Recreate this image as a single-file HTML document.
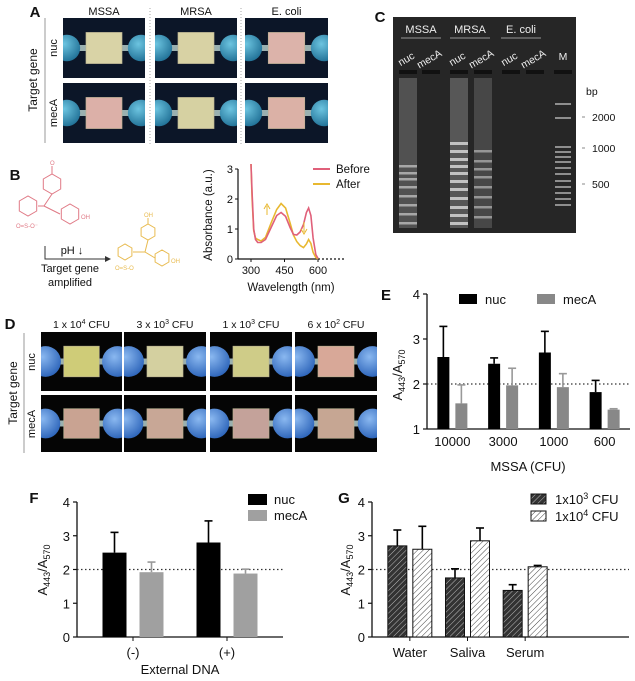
<!DOCTYPE html>
<html><head><meta charset="utf-8"><style>
body{margin:0;background:#fff;}
svg{display:block;font-family:"Liberation Sans",Arial,sans-serif;}
</style></head><body>
<svg id="fig" width="635" height="681" viewBox="0 0 635 681" xmlns="http://www.w3.org/2000/svg">
<defs id="defs">
<pattern id="hatchDark" patternUnits="userSpaceOnUse" width="4" height="4" patternTransform="rotate(45)"><rect width="4" height="4" fill="#333"/><line x1="0" y1="0" x2="0" y2="4" stroke="#bbb" stroke-width="1"/></pattern>
<pattern id="hatchLight" patternUnits="userSpaceOnUse" width="4" height="4" patternTransform="rotate(45)"><rect width="4" height="4" fill="#fff"/><line x1="0" y1="0" x2="0" y2="4" stroke="#444" stroke-width="1"/></pattern>
<radialGradient id="blueBall" cx="0.4" cy="0.35" r="0.7"><stop offset="0" stop-color="#6cc4e0"/><stop offset="1" stop-color="#1f6f95"/></radialGradient>
<radialGradient id="blueBall2" cx="0.4" cy="0.35" r="0.7"><stop offset="0" stop-color="#8ab8f0"/><stop offset="1" stop-color="#2a62b8"/></radialGradient>
</defs>
<g id="panelA"></g>
<g id="panelB"></g>
<g id="panelC"></g>
<g id="panelD"></g>
<g id="panelE"></g>
<g id="panelF"></g>
<g id="panelG"></g>
</svg>
<script>
// ---------- data ----------
const eCategories = ["10000","3000","1000","600"];
const eNuc = [2.6, 2.45, 2.7, 1.82];
const eNucErr = [0.68, 0.13, 0.47, 0.26];
const eMecA = [1.57, 1.97, 1.93, 1.43];
const eMecAErr = [0.41, 0.38, 0.30, 0.02];
const eTicks = [1, 2, 3, 4];

const fCategories = ["(-)", "(+)"];
const fNuc = [2.5, 2.8];
const fNucErr = [0.6, 0.64];
const fMecA = [1.92, 1.88];
const fMecAErr = [0.3, 0.13];
const fTicks = [0, 1, 2, 3, 4];

const gCategories = ["Water", "Saliva", "Serum"];
const g1e3 = [2.7, 1.75, 1.38];
const g1e3Err = [0.47, 0.27, 0.17];
const g1e4 = [2.6, 2.85, 2.08];
const g1e4Err = [0.68, 0.38, 0.04];
const gTicks = [0, 1, 2, 3, 4];

const bWave = [300, 305, 312, 320, 330, 345, 365, 390, 415, 435, 455, 475, 490, 505, 520, 535, 548, 558, 568, 578, 590, 600];
const bBefore = [3.2, 2.2, 1.0, 0.65, 0.55, 0.55, 0.65, 1.05, 1.45, 1.55, 1.42, 1.05, 0.82, 0.8, 0.9, 1.15, 1.55, 1.7, 1.45, 0.7, 0.15, 0.02];
const bAfter = [3.2, 2.0, 0.95, 0.7, 0.65, 0.6, 0.72, 1.2, 1.65, 1.85, 1.7, 1.2, 0.8, 0.58, 0.45, 0.38, 0.5, 0.65, 0.52, 0.22, 0.05, 0.0];
const bTicksX = [300, 450, 600];
const bTicksY = [0, 1, 2, 3];

const NS = "http://www.w3.org/2000/svg";
function mk(tag, attrs, parent, txt){
  const e = document.createElementNS(NS, tag);
  for (const k in attrs) e.setAttribute(k, attrs[k]);
  if (txt !== undefined) e.textContent = txt;
  parent.appendChild(e); return e;
}
function txt(parent, x, y, s, size, opts){
  opts = opts || {};
  const t = mk("text", {x:x, y:y, "font-size":size, fill:opts.fill||"#111", "text-anchor":opts.anchor||"middle"}, parent, s);
  if (opts.bold) t.setAttribute("font-weight","bold");
  if (opts.rot) t.setAttribute("transform","rotate(-90 "+x+" "+y+")");
  return t;
}
const defs = document.getElementById("defs");
let clipN = 0;

// ---------- Panel A ----------
const A = document.getElementById("panelA");
let t = txt(A, 35, 17, "A", 15, {bold:true});


const aCols = [[63,145,"MSSA"],[155,237,"MRSA"],[245,328,"E. coli"]];
const aRows = [[18,78],[83,143]];
const aColors = [["#d9d3a6","#d8d2a4","#dcb3aa"],["#dcb0a8","#d6d1a2","#dbb1a6"]];
function cartridge(parent, x0, x1, y0, y1, color, bg, ball, rf){
  const id = "clip"+(clipN++);
  const cp = mk("clipPath",{id:id},defs);
  mk("rect",{x:x0,y:y0,width:x1-x0,height:y1-y0},cp);
  const g = mk("g",{"clip-path":"url(#"+id+")"},parent);
  mk("rect",{x:x0,y:y0,width:x1-x0,height:y1-y0,fill:bg},g);
  const cy=(y0+y1)/2, w=x1-x0, h=y1-y0;
  const r=h*rf;
  mk("rect",{x:x0,y:cy-3,width:w,height:6,fill:"#9ab0b0"},g);
  mk("circle",{cx:x0+r*0.3,cy:cy,r:r,fill:"url(#"+ball+")"},g);
  mk("circle",{cx:x1-r*0.3,cy:cy,r:r,fill:"url(#"+ball+")"},g);
  mk("rect",{x:x0+w*0.28,y:y0+h*0.24,width:w*0.44,height:h*0.52,fill:color,stroke:"#b8b090","stroke-width":0.6},g);
}
aCols.forEach((c,ci)=>{
  const h = txt(A,(c[0]+c[1])/2,15,c[2],11);
  
  
  aRows.forEach((r,ri)=>{
    const g = mk("g",{},A);
    
    
    cartridge(g,c[0],c[1],r[0],r[1],aColors[ri][ci],"#0c1628","blueBall",0.22);
  });
});
mk("line",{x1:150,y1:8,x2:150,y2:146,stroke:"#aaa","stroke-dasharray":"1,2"},A);
mk("line",{x1:241,y1:8,x2:241,y2:146,stroke:"#aaa","stroke-dasharray":"1,2"},A);
mk("line",{x1:45,y1:18,x2:45,y2:143,stroke:"#999"},A);
t = txt(A,37,80,"Target gene",12,{rot:true});  
txt(A,57,48,"nuc",11,{rot:true});
txt(A,57,113,"mecA",11,{rot:true});

// ---------- Panel C gel ----------
const C = document.getElementById("panelC");
t = txt(C,380,22,"C",15,{bold:true});  
const gel = mk("rect",{x:393,y:17,width:183,height:216,fill:"#262626"},C);
 
[["MSSA",421],["MRSA",470],["E. coli",521]].forEach(l=>{
  txt(C,l[1],33,l[0],11,{fill:"#eee"});
  mk("line",{x1:l[1]-20,y1:38,x2:l[1]+20,y2:38,stroke:"#bbb","stroke-width":0.8},C);
});
const lanes=[408,431,459,483,511,535];
lanes.forEach((x,i)=>{
  mk("text",{x:x,y:62,"font-size":10.5,fill:"#eee","text-anchor":"middle",transform:"rotate(-30 "+x+" 62)"},C,i%2?"mecA":"nuc");
  mk("rect",{x:x-9,y:70,width:18,height:4,fill:"#111"},C);
});
txt(C,563,60,"M",10.5,{fill:"#eee"});
mk("rect",{x:554,y:70,width:18,height:4,fill:"#111"},C);
[[408,0.45],[459,0.5],[483,0.35]].forEach(s=>{
  mk("rect",{x:s[0]-9,y:78,width:18,height:150,fill:"#888",opacity:s[1]},C);
});
const bands1=[165,172,178,186,195,204,213,222];
const bands2=[142,150,158,165,172,180,188,197,206,214,222];
const bands3=[150,160,168,176,186,196,206,216];
const ladder=[103,117,146,151,156,161,167,173,180,186,192,198,204];
bands1.forEach(y=>mk("rect",{x:399,y:y,width:18,height:2.5,fill:"#ccc",opacity:0.7},C));
bands2.forEach(y=>mk("rect",{x:450,y:y,width:18,height:3,fill:"#ddd",opacity:0.8},C));
bands3.forEach(y=>mk("rect",{x:474,y:y,width:18,height:2.5,fill:"#ccc",opacity:0.6},C));
ladder.forEach(y=>mk("rect",{x:555,y:y,width:16,height:2,fill:"#bbb",opacity:0.7},C));
[["bp",95],["2000",121],["1000",152],["500",188]].forEach((b,i)=>{
  txt(C,b[0]==="bp"?586:592,b[1],b[0],10.5,{anchor:"start"});
  if(i>0) mk("line",{x1:582,y1:b[1]-4,x2:585,y2:b[1]-4,stroke:"#888"},C);
});

// ---------- Panel B ----------
const B = document.getElementById("panelB");
t = txt(B,15,180,"B",15,{bold:true});  
const pk="#e07a86", yl="#e8bb50";
function ring(p,cx,cy,r,c){let d="";for(let i=0;i<6;i++){const a=Math.PI/3*i+Math.PI/6;d+=(i?"L":"M")+(cx+r*Math.cos(a)).toFixed(1)+","+(cy+r*Math.sin(a)).toFixed(1);}mk("path",{d:d+"Z",fill:"none",stroke:c,"stroke-width":1},p);}
const mol1=mk("g",{},B);  
ring(mol1,28,206,10,pk); ring(mol1,52,184,10,pk); ring(mol1,70,214,10,pk);
mk("path",{d:"M38,206 L44,206 L52,194 M44,206 L60,214 M52,174 L52,166",fill:"none",stroke:pk},mol1);
mk("text",{x:50,y:165,"font-size":6,fill:pk},mol1,"O");
mk("text",{x:81,y:219,"font-size":6,fill:pk},mol1,"OH");
mk("text",{x:16,y:228,"font-size":6,fill:pk},mol1,"O=S-O⁻");
const mol2=mk("g",{},B);  
ring(mol2,125,252,8,yl); ring(mol2,148,232,8,yl); ring(mol2,162,258,8,yl);
mk("path",{d:"M133,252 L145,252 L148,240 M145,252 L155,258 M148,224 L148,218",fill:"none",stroke:yl},mol2);
mk("text",{x:144,y:217,"font-size":6,fill:yl},mol2,"OH");
mk("text",{x:171,y:263,"font-size":6,fill:yl},mol2,"OH");
mk("text",{x:115,y:270,"font-size":6,fill:yl},mol2,"O=S-O");
mk("path",{d:"M45,246 L45,259 L105,259",fill:"none",stroke:"#333"},B);
mk("path",{d:"M105,256 L111,259 L105,262 Z",fill:"#333"},B);
txt(B,72,254,"pH ↓",11);
txt(B,70,272,"Target gene",11);
txt(B,70,286,"amplified",11);
const bx0=238, bx1=345, by0=259;
const bX = w => 251 + (w-300)*(67/300);
const bY = v => by0 - v*30;
const spec = mk("g",{},B);  
mk("line",{x1:bx0,y1:bY(3),x2:bx0,y2:by0,stroke:"#111","stroke-width":1.2},spec);
mk("line",{x1:bx0,y1:by0,x2:bX(600),y2:by0,stroke:"#111","stroke-width":1.2},spec);
mk("line",{x1:bX(600),y1:by0,x2:bx1,y2:by0,stroke:"#111","stroke-width":1.2,"stroke-dasharray":"2,2"},spec);
bTicksY.forEach(v=>{mk("line",{x1:bx0-3,y1:bY(v),x2:bx0,y2:bY(v),stroke:"#111"},spec);txt(spec,bx0-5,bY(v)+4,String(v),11,{anchor:"end"});});
bTicksX.forEach(v=>{mk("line",{x1:bX(v),y1:by0,x2:bX(v),y2:by0+3,stroke:"#111"},spec);txt(spec,bX(v),by0+15,String(v),11);});
t=txt(spec,212,215,"Absorbance (a.u.)",11.5,{rot:true});  
t=txt(spec,291,291,"Wavelength (nm)",11.5);  
function line(arr,col,name){
  const d = arr.map((v,i)=>(i?"L":"M")+bX(bWave[i]).toFixed(1)+","+Math.max(bY(v),by0-95).toFixed(1)).join("");
  const p = mk("path",{d:d,fill:"none",stroke:col,"stroke-width":1.6},spec);
  
  
}
line(bAfter,"#e8b830","after-line");
line(bBefore,"#e0607a","before-line");
mk("path",{d:"M267,215 L267,206 M264,209 L267,204 L270,209",stroke:"#e8b830",fill:"none"},spec);
mk("path",{d:"M304,222 L304,232 M301,229 L304,234 L307,229",stroke:"#e8b830",fill:"none"},spec);
const lgB=mk("g",{},spec);  
mk("line",{x1:313,y1:169,x2:330,y2:169,stroke:"#e0607a","stroke-width":2},lgB);
txt(lgB,336,173,"Before",11.5,{anchor:"start"});
mk("line",{x1:313,y1:184,x2:330,y2:184,stroke:"#e8b830","stroke-width":2},lgB);
txt(lgB,336,188,"After",11.5,{anchor:"start"});

// ---------- Panel D ----------
const D = document.getElementById("panelD");
t = txt(D,10,329,"D",15,{bold:true});  
const dCols=[[41,122,"1 x 10","4"],[124,206,"3 x 10","3"],[210,292,"1 x 10","3"],[295,377,"6 x 10","2"]];
const dRows=[[332,391],[395,452]];
const dColors=[["#cfcc78","#d4d0a0","#cfcc88","#d8a898"],["#c9a392","#c8a796","#c4a29a","#c6a693"]];
dCols.forEach((c,ci)=>{
  const h=mk("text",{x:(c[0]+c[1])/2,y:328,"font-size":10.5,fill:"#111","text-anchor":"middle"},D);
  h.innerHTML=c[2]+'<tspan dy="-4" font-size="7">'+c[3]+'</tspan><tspan dy="4"> CFU</tspan>';
  
  
  dRows.forEach((r,ri)=>{
    const g=mk("g",{},D);
    
    
    cartridge(g,c[0],c[1],r[0],r[1],dColors[ri][ci],"#050505","blueBall2",0.26);
  });
});
mk("line",{x1:24,y1:333,x2:24,y2:453,stroke:"#999"},D);
txt(D,17,393,"Target gene",12,{rot:true});
txt(D,35,362,"nuc",11,{rot:true});
txt(D,35,424,"mecA",11,{rot:true});

// ---------- generic bar chart ----------
function barChart(P, o){
  const Y = v => o.y0 - (v - o.vmin)*o.unit;
  const axis=mk("g",{},P);  
  mk("line",{x1:o.x0,y1:Y(o.ticks[o.ticks.length-1]),x2:o.x0,y2:o.y0,stroke:"#111","stroke-width":1.3},axis);
  o.ticks.forEach(v=>{mk("line",{x1:o.x0-4,y1:Y(v),x2:o.x0,y2:Y(v),stroke:"#111","stroke-width":1.2},axis);txt(axis,o.x0-7,Y(v)+5,String(v),13,{anchor:"end"});});
  const xa=mk("line",{x1:o.x0,y1:o.y0,x2:o.x1,y2:o.y0,stroke:"#111","stroke-width":1.3},P);
   
  const ref=mk("line",{x1:o.x0,y1:Y(2),x2:o.x1,y2:Y(2),stroke:"#333","stroke-dasharray":"1.5,2.5","stroke-width":1.2},P);
   
  const n=o.cats.length, step=(o.x1-o.x0-o.padL-o.padR)/n;
  o.cats.forEach((c,i)=>{
    const cx=o.x0+o.padL+step*(i+0.5);
    o.series.forEach((s,si)=>{
      const bx=cx+(si===0?-o.gap/2-o.bw:o.gap/2);
      const v=s.vals[i], e=s.err[i];
      const ex=bx+o.bw/2;
      mk("line",{x1:ex,y1:Y(v+e),x2:ex,y2:Y(v),stroke:s.ecol,"stroke-width":1.6},P);
      mk("line",{x1:ex-4,y1:Y(v+e),x2:ex+4,y2:Y(v+e),stroke:s.ecol,"stroke-width":1.6},P);
      const r=mk("rect",{x:bx,y:Y(v),width:o.bw,height:o.y0-Y(v),fill:s.fill,stroke:s.stroke||"none","stroke-width":1},P);
      
      
    });
    if(o.tickMarks) mk("line",{x1:cx,y1:o.y0,x2:cx,y2:o.y0+4,stroke:"#111"},P);
    const l=txt(P,cx,o.y0+o.labelDy,c,13);
    
    
  });
  const yt=mk("text",{x:o.ytx,y:o.yty,"font-size":13,fill:"#111","text-anchor":"middle",transform:"rotate(-90 "+o.ytx+" "+o.yty+")"},P);
  yt.innerHTML='A<tspan font-size="9" dy="3">443</tspan><tspan dy="-3">/A</tspan><tspan font-size="9" dy="3">570</tspan>';
  
  
}

// ---------- Panel E ----------
const E=document.getElementById("panelE");
t=txt(E,386,300,"E",15,{bold:true});  
barChart(E,{id:"e",x0:427,x1:630,y0:429,vmin:1,unit:45,ticks:eTicks,cats:eCategories,padL:0,padR:0,bw:12,gap:6,labelDy:17,tickMarks:false,
  series:[{key:"nuc",vals:eNuc,err:eNucErr,fill:"#000",ecol:"#000"},{key:"meca",vals:eMecA,err:eMecAErr,fill:"#888",ecol:"#999"}],ytx:402,yty:375});
t=txt(E,528,471,"MSSA (CFU)",13);  
const lgE=mk("g",{},E);  
mk("rect",{x:459,y:294,width:18,height:10,fill:"#000"},lgE); txt(lgE,485,304,"nuc",13,{anchor:"start"});
mk("rect",{x:537,y:294,width:18,height:10,fill:"#888"},lgE); txt(lgE,563,304,"mecA",13,{anchor:"start"});

// ---------- Panel F ----------
const F=document.getElementById("panelF");
t=txt(F,34,503,"F",15,{bold:true});  
barChart(F,{id:"f",x0:77,x1:283,y0:637,vmin:0,unit:33.75,ticks:fTicks,cats:fCategories,padL:9,padR:9,bw:24,gap:13,labelDy:20,tickMarks:true,
  series:[{key:"nuc",vals:fNuc,err:fNucErr,fill:"#000",ecol:"#000"},{key:"meca",vals:fMecA,err:fMecAErr,fill:"#a0a0a0",ecol:"#999"}],ytx:47,yty:570});
t=txt(F,180,674,"External DNA",13);  
const lgF=mk("g",{},F);  
mk("rect",{x:248,y:494,width:19,height:11,fill:"#000"},lgF); txt(lgF,274,504,"nuc",13,{anchor:"start"});
mk("rect",{x:248,y:510,width:19,height:11,fill:"#a0a0a0"},lgF); txt(lgF,274,520,"mecA",13,{anchor:"start"});

// ---------- Panel G ----------
const G=document.getElementById("panelG");
t=txt(G,344,503,"G",15,{bold:true});  
barChart(G,{id:"g",x0:372,x1:629,y0:637,vmin:0,unit:33.75,ticks:gTicks,cats:gCategories,padL:9,padR:75,bw:19,gap:6,labelDy:20,tickMarks:true,
  series:[{key:"1e3",vals:g1e3,err:g1e3Err,fill:"url(#hatchDark)",stroke:"#111",ecol:"#000"},{key:"1e4",vals:g1e4,err:g1e4Err,fill:"url(#hatchLight)",stroke:"#111",ecol:"#000"}],ytx:350,yty:570});
const lgG=mk("g",{},G);  
mk("rect",{x:531,y:494,width:15,height:10,fill:"url(#hatchDark)",stroke:"#111"},lgG);
let lt=mk("text",{x:555,y:504,"font-size":13,fill:"#111"},lgG); lt.innerHTML='1x10<tspan dy="-5" font-size="9">3</tspan><tspan dy="5"> CFU</tspan>';
mk("rect",{x:531,y:511,width:15,height:10,fill:"url(#hatchLight)",stroke:"#111"},lgG);
lt=mk("text",{x:555,y:521,"font-size":13,fill:"#111"},lgG); lt.innerHTML='1x10<tspan dy="-5" font-size="9">4</tspan><tspan dy="5"> CFU</tspan>';
</script>
</body></html>
